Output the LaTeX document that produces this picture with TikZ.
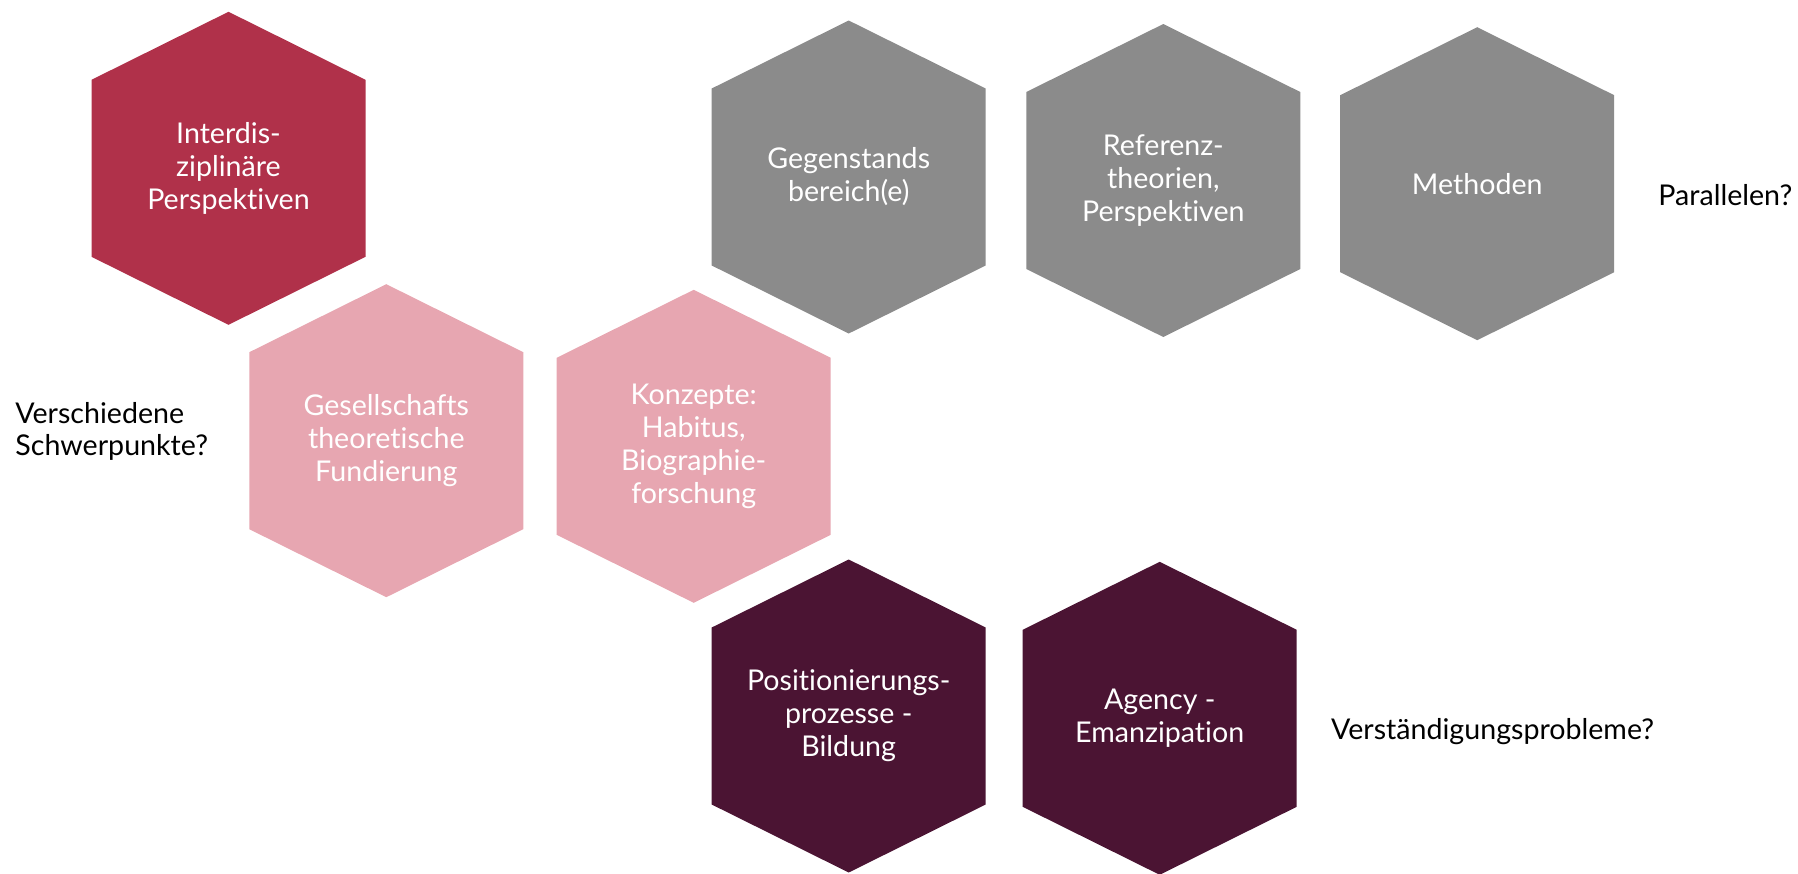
\documentclass[tikz,border=0pt]{standalone}
\usepackage{fontspec}
\setmainfont[Ligatures=NoCommon]{Lato}
\definecolor{cellred}{RGB}{176,49,74}
\definecolor{cellrose}{RGB}{231,166,177}
\definecolor{cellgrey}{RGB}{139,139,139}
\definecolor{cellplum}{RGB}{75,20,51}
% hexagon with a labelled centre: name, x, y, colour, text
\newcommand\hexcell[5]{%
  \fill[#4] (#2,#3) ++(0,-156.5) -- ++(137,68) -- ++(0,177) -- ++(-137,68)
    -- ++(-137,-68) -- ++(0,-177) -- cycle;
  \node[celltext] (#1) at (#2,#3) {#5};
}
\begin{document}
\begin{tikzpicture}[x=0.5pt,y=-0.5pt,
  celltext/.style={text=white, align=center, inner sep=0pt,
    font=\fontsize{14.3}{16.5}\selectfont},
  remark/.style={text=black, align=left, inner sep=0pt,
    font=\fontsize{14.3}{16}\selectfont}]
\useasboundingbox (0,0) rectangle (1798,873);

\hexcell{interdis}{228.5}{168.3}{cellred}{Interdis-\\ziplinäre\\Perspektiven}
\hexcell{gesellschaft}{386.3}{440.7}{cellrose}{Gesellschafts\\theoretische\\Fundierung}
\hexcell{konzepte}{693.7}{446.3}{cellrose}{Konzepte:\\Habitus,\\Biographie-\\forschung}
\hexcell{gegenstand}{848.7}{177}{cellgrey}{Gegenstands\\bereich(e)}
\hexcell{referenz}{1163.3}{180.5}{cellgrey}{Referenz-\\theorien,\\Perspektiven}
\hexcell{methoden}{1477.2}{183.7}{cellgrey}{Methoden}
\hexcell{position}{848.7}{716}{cellplum}{Positionierungs-\\prozesse -\\Bildung}
\hexcell{agency}{1159.7}{718.3}{cellplum}{Agency -\\Emanzipation}

\node[remark, anchor=base west] (parallelen) at (1658,205) {Parallelen?};
\node[remark, anchor=west] (schwerpunkte) at (15,431) {Verschiedene\\Schwerpunkte?};
\node[remark, anchor=base west] (verstaendigung) at (1330.7,739.3) {Verständigungsprobleme?};
\end{tikzpicture}
\end{document}
